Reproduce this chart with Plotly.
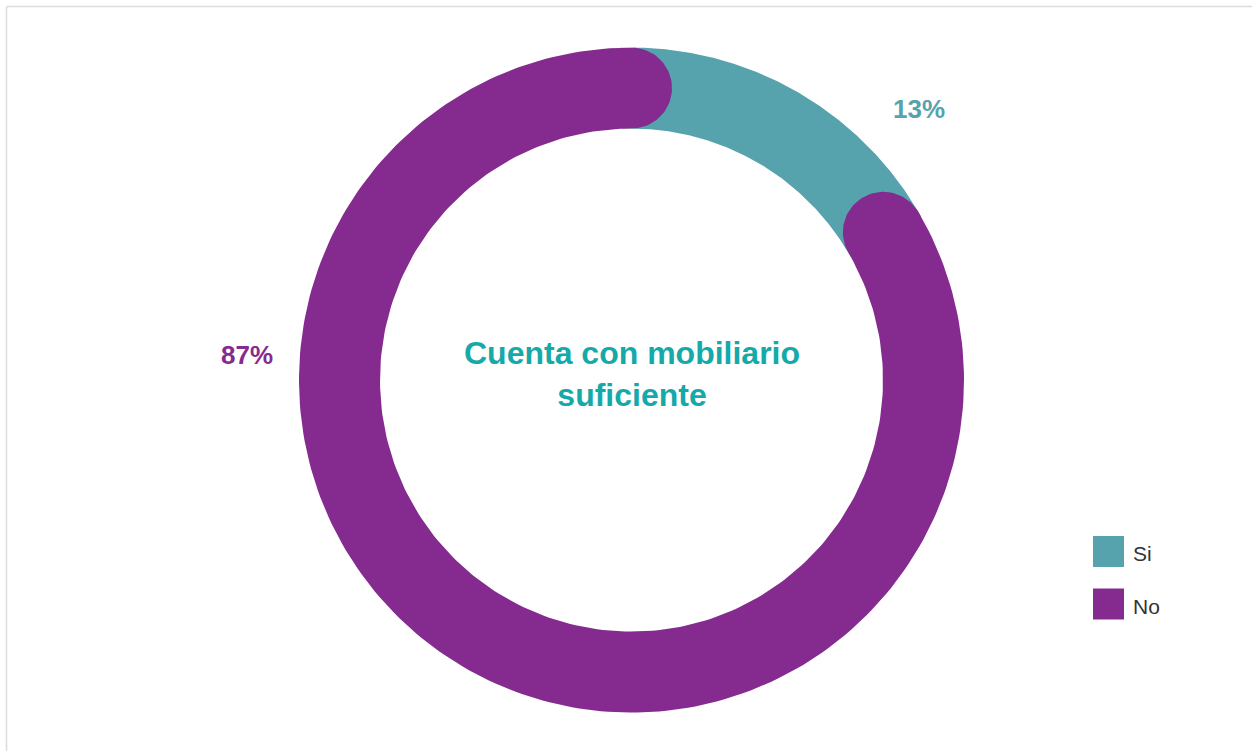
import numpy as np
import plotly.graph_objects as go

# ---------------- data ----------------
categories = ["Si", "No"]
values = [13, 87]
labels_text = ["13%", "87%"]
title_lines = ["Cuenta con mobiliario", "suficiente"]

# ---------------- style ----------------
colors = {"Si": "#56A2AD", "No": "#852A8F"}
title_color = "#15A9A9"
W, H = 1252, 751
CX, CY = 631.5, 380.1          # ring centre (px)
R_OUT, R_IN = 332.5, 251.5      # ring radii (px)
SEG_OFFSET_DEG = 12.8           # visual lead of the rounded "No" cap
LABEL_POS = {"Si": (46.6, 395.0), "No": (273.7, 385.0)}  # (angle deg, radius px)
FONT = "Liberation Sans, Arial, sans-serif"

R_MID = (R_OUT + R_IN) / 2
HALF = (R_OUT - R_IN) / 2


def pt(theta_deg, r):
    t = np.radians(theta_deg)
    return CX + r * np.sin(t), CY - r * np.cos(t)


def arc_polygon(a0, a1, cap_start=False, cap_end=False, n=240):
    th = np.linspace(a0, a1, n)
    xs, ys = [], []
    ox, oy = pt(th, R_OUT)
    xs += list(ox); ys += list(oy)
    if cap_end:
        t = np.radians(a1)
        cx, cy = pt(a1, R_MID)
        u = np.array([np.sin(t), -np.cos(t)])
        tg = np.array([np.cos(t), np.sin(t)])
        for phi in np.linspace(0, np.pi, 60):
            v = u * np.cos(phi) + tg * np.sin(phi)
            xs.append(cx + HALF * v[0]); ys.append(cy + HALF * v[1])
    ix, iy = pt(th[::-1], R_IN)
    xs += list(ix); ys += list(iy)
    if cap_start:
        t = np.radians(a0)
        cx, cy = pt(a0, R_MID)
        u = np.array([np.sin(t), -np.cos(t)])
        tg = np.array([np.cos(t), np.sin(t)])
        for phi in np.linspace(0, np.pi, 60):
            v = -u * np.cos(phi) - tg * np.sin(phi)
            xs.append(cx + HALF * v[0]); ys.append(cy + HALF * v[1])
    xs.append(xs[0]); ys.append(ys[0])
    return xs, ys


total = sum(values)
si_end = 360.0 * values[0] / total
no_start = si_end + SEG_OFFSET_DEG

fig = go.Figure()

# "Si" segment (drawn first, partly covered by the rounded "No" caps)
xs, ys = arc_polygon(-2.0, no_start + 1.0)
fig.add_trace(go.Scatter(x=xs, y=ys, fill="toself", mode="lines",
                         line=dict(width=0, color=colors["Si"]),
                         fillcolor=colors["Si"], name=categories[0],
                         hoverinfo="name", showlegend=False))
# "No" segment with rounded caps
xs, ys = arc_polygon(no_start, 360.0, cap_start=True, cap_end=True)
fig.add_trace(go.Scatter(x=xs, y=ys, fill="toself", mode="lines",
                         line=dict(width=0, color=colors["No"]),
                         fillcolor=colors["No"], name=categories[1],
                         hoverinfo="name", showlegend=False))

annotations = []
# percentage labels
for cat, txt in zip(categories, labels_text):
    ang, rad = LABEL_POS[cat]
    lx, ly = pt(ang, rad)
    annotations.append(dict(x=lx, y=ly, xref="x", yref="y", text=f"<b>{txt}</b>",
                            showarrow=False, xanchor="center", yanchor="middle",
                            font=dict(family=FONT, size=26, color=colors[cat])))
# centre title (single two-line text)
annotations.append(dict(x=CX, y=374, xref="x", yref="y",
                        text="<b>" + "<br>".join(title_lines) + "</b>",
                        showarrow=False, xanchor="center", yanchor="middle",
                        align="center",
                        font=dict(family=FONT, size=32, color=title_color)))

# legend (manual, large square swatches)
shapes = []
leg_x0, leg_y0, sw, gap = 1093, 536, 31, 52.5
for i, cat in enumerate(categories):
    y0 = leg_y0 + i * gap
    shapes.append(dict(type="rect", xref="x", yref="y", x0=leg_x0, x1=leg_x0 + sw,
                       y0=y0, y1=y0 + sw, fillcolor=colors[cat], line=dict(width=0)))
    annotations.append(dict(x=leg_x0 + sw + 7, y=y0 + sw / 2 + 2, xref="x", yref="y",
                            text=cat, showarrow=False, xanchor="left", yanchor="middle",
                            font=dict(family=FONT, size=21, color="#333333")))

# container border (top / left)
shapes.append(dict(type="line", xref="x", yref="y", x0=6.5, x1=W, y0=6.5, y1=6.5,
                   line=dict(color="#DCDCDC", width=1.5)))
shapes.append(dict(type="line", xref="x", yref="y", x0=6.5, x1=6.5, y0=6.5, y1=H,
                   line=dict(color="#DCDCDC", width=1.5)))

fig.update_layout(
    width=W, height=H,
    margin=dict(l=0, r=0, t=0, b=0),
    paper_bgcolor="white", plot_bgcolor="white",
    xaxis=dict(range=[0, W], visible=False, fixedrange=True),
    yaxis=dict(range=[H, 0], visible=False, fixedrange=True),
    shapes=shapes, annotations=annotations,
    showlegend=False,
)

fig.write_html("out.html", config={"displayModeBar": False},
               post_script="document.body.style.margin='0';document.body.style.overflow='hidden';")
